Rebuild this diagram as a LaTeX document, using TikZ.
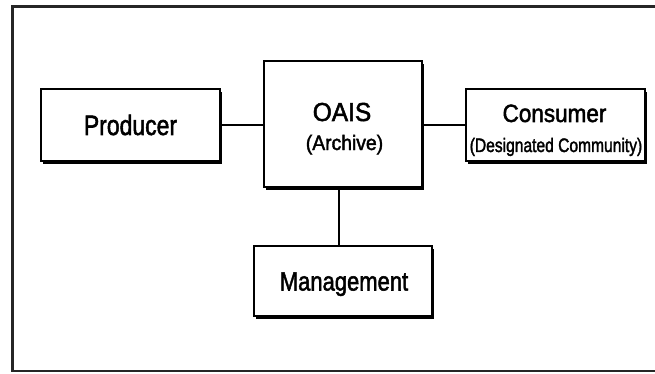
\documentclass[tikz,border=0pt]{standalone}
\usepackage{fontspec}
\setmainfont{Liberation Sans}[FakeBold=2]
\usetikzlibrary{shadows,calc}
\begin{document}
\begin{tikzpicture}[x=1pt,y=-1pt,
  box/.style={draw=black, line width=1.8pt, fill=white, inner sep=0pt,
    drop shadow={shadow xshift=1.6pt, shadow yshift=-3.4pt, fill=black, opacity=1}},
  wire/.style={line width=1.8pt, draw=black},
  frame/.style={line width=2.6pt, draw=black!85},
  lbl/.style={anchor=base, inner sep=0pt, text=black}]
\useasboundingbox (0,0) rectangle (655,374);
\draw[frame] (12.5,6.5) rectangle (690,371);
% boxes
\node[box, minimum width=179pt, minimum height=72pt] (producer) at (130.5,125) {};
\node[box, minimum width=158pt, minimum height=126pt] (oais) at (343,124) {};
\node[box, minimum width=179pt, minimum height=72pt] (consumer) at (555.5,125) {};
\node[box, minimum width=178pt, minimum height=70pt] (mgmt) at (343,281) {};
% connectors
\draw[wire] (producer.east) -- (producer.east -| oais.west);
\draw[wire] (consumer.west) -- (consumer.west -| oais.east);
\draw[wire] ($(oais.south)+(-4,0)$) -- ($(mgmt.north)+(-4,0)$);
% labels
\node[lbl, font=\fontsize{28}{28}\selectfont] (producerText) at (130.5,135) {\scalebox{0.82}[1]{Producer}};
\node[lbl, font=\fontsize{26}{26}\selectfont] (oaisText) at (342,121) {\scalebox{0.94}[1]{OAIS}};
\node[lbl, font=\fontsize{21}{21}\selectfont] (archiveText) at (344.5,150) {\scalebox{0.92}[1]{(Archive)}};
\node[lbl, font=\fontsize{25}{25}\selectfont] (consumerText) at (554.5,122) {\scalebox{0.90}[1]{Consumer}};
\node[lbl, font=\fontsize{19.5}{19.5}\selectfont] (communityText) at (556,152) {\scalebox{0.80}[1]{(Designated Community)}};
\node[lbl, font=\fontsize{26.5}{26.5}\selectfont] (mgmtText) at (344,290.5) {\scalebox{0.83}[1]{Management}};
\end{tikzpicture}
\end{document}
